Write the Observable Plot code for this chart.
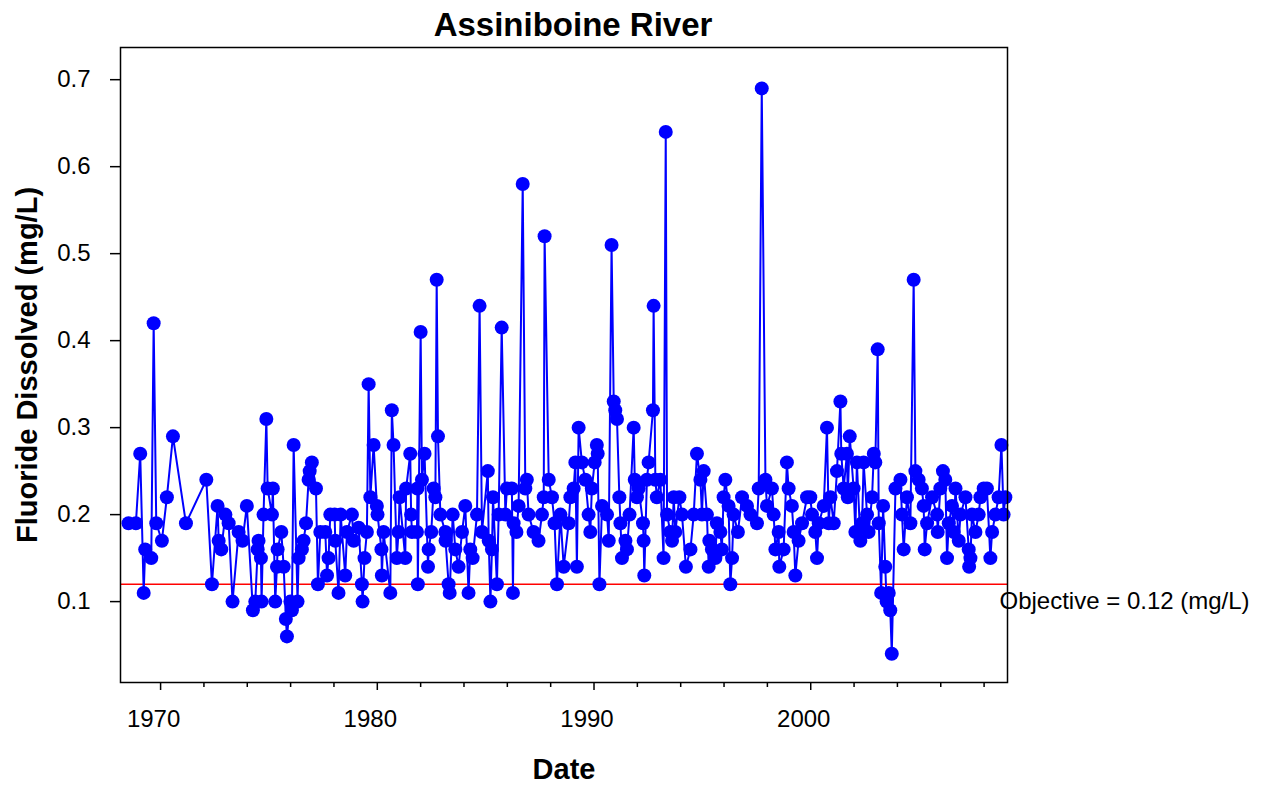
<!DOCTYPE html>
<html>
<head>
<meta charset="utf-8">
<script src="https://cdn.jsdelivr.net/npm/d3@7"></script>
<script src="https://cdn.jsdelivr.net/npm/@observablehq/plot@0.6"></script>
<style>
  html, body { margin: 0; padding: 0; background: #ffffff; }
  #chart { width: 1270px; height: 785px; }
</style>
</head>
<body>
<div id="chart"></div>
<script>
const title = "Assiniboine River";
const xLabel = "Date";
const yLabel = "Fluoride Dissolved (mg/L)";
const objective = 0.12;
const objectiveUnit = "(mg/L)";

const majorYears = [1970, 1980, 1990, 2000];
const minorYears = [1972, 1974, 1976, 1978, 1982, 1984, 1986, 1988, 1992, 1994, 1996, 1998, 2002, 2004, 2006, 2008];
const yTicks = [0.1, 0.2, 0.3, 0.4, 0.5, 0.6, 0.7];

const years = [1968.52,1968.86,1969.06,1969.22,1969.29,1969.57,1969.68,1969.80,1970.06,1970.29,
1970.57,1971.17,1972.11,1972.37,1972.63,1972.68,1972.80,1972.99,1973.14,1973.32,
1973.60,1973.78,1973.98,1974.26,1974.37,1974.48,1974.52,1974.63,1974.66,1974.75,
1974.88,1974.94,1975.14,1975.18,1975.29,1975.37,1975.40,1975.57,1975.68,1975.78,
1975.83,1975.99,1976.06,1976.14,1976.32,1976.37,1976.52,1976.60,1976.71,1976.83,
1976.88,1976.98,1977.17,1977.26,1977.37,1977.60,1977.68,1977.75,1977.83,1978.03,
1978.06,1978.21,1978.31,1978.52,1978.60,1978.83,1978.91,1979.14,1979.29,1979.32,
1979.41,1979.52,1979.60,1979.68,1979.83,1979.98,1980.01,1980.19,1980.21,1980.29,
1980.60,1980.67,1980.75,1980.90,1980.98,1981.03,1981.29,1981.33,1981.52,1981.56,
1981.60,1981.83,1981.85,1981.87,1982.00,1982.06,1982.18,1982.34,1982.37,1982.49,
1982.60,1982.68,1982.74,1982.80,1982.91,1983.14,1983.15,1983.29,1983.34,1983.48,
1983.60,1983.75,1983.91,1984.06,1984.21,1984.29,1984.40,1984.60,1984.72,1984.83,
1985.10,1985.14,1985.22,1985.29,1985.34,1985.52,1985.60,1985.74,1985.91,1985.98,
1986.21,1986.26,1986.29,1986.42,1986.52,1986.71,1986.83,1986.90,1986.98,1987.21,
1987.44,1987.60,1987.68,1987.72,1987.91,1988.06,1988.18,1988.29,1988.45,1988.60,
1988.83,1988.91,1989.06,1989.14,1989.21,1989.29,1989.44,1989.60,1989.75,1989.83,
1989.90,1990.03,1990.13,1990.17,1990.25,1990.37,1990.60,1990.68,1990.81,1990.91,
1990.98,1991.06,1991.17,1991.22,1991.29,1991.45,1991.52,1991.64,1991.83,1991.88,
1991.98,1992.06,1992.26,1992.29,1992.32,1992.44,1992.52,1992.72,1992.75,1992.83,
1992.90,1993.06,1993.21,1993.31,1993.37,1993.52,1993.60,1993.68,1993.75,1993.94,
1994.06,1994.24,1994.45,1994.60,1994.75,1994.91,1994.98,1995.06,1995.21,1995.29,
1995.32,1995.44,1995.60,1995.67,1995.83,1995.90,1995.98,1996.06,1996.21,1996.29,
1996.37,1996.44,1996.64,1996.83,1997.06,1997.22,1997.52,1997.60,1997.74,1997.91,
1997.98,1998.21,1998.29,1998.37,1998.52,1998.55,1998.75,1998.90,1998.98,1999.13,
1999.21,1999.29,1999.44,1999.60,1999.83,1999.98,2000.06,2000.21,2000.29,2000.37,
2000.60,2000.75,2000.83,2000.91,2001.06,2001.21,2001.37,2001.41,2001.52,2001.67,
2001.71,2001.80,2001.98,2002.06,2002.13,2002.29,2002.37,2002.44,2002.60,2002.67,
2002.83,2002.91,2002.98,2003.09,2003.14,2003.25,2003.34,2003.44,2003.50,2003.60,
2003.67,2003.74,2003.91,2004.14,2004.21,2004.29,2004.44,2004.60,2004.75,2004.83,
2004.98,2005.13,2005.21,2005.26,2005.37,2005.60,2005.83,2005.86,2005.98,2006.10,
2006.21,2006.29,2006.37,2006.52,2006.60,2006.68,2006.83,2006.91,2007.14,2007.29,
2007.31,2007.37,2007.44,2007.60,2007.75,2007.83,2007.98,2008.13,2008.29,2008.37,
2008.52,2008.67,2008.80,2008.90,2008.98];

const fluoride = [0.19,0.19,0.27,0.11,0.16,0.15,0.42,0.19,0.17,0.22,
0.29,0.19,0.24,0.12,0.21,0.17,0.16,0.20,0.19,0.10,
0.18,0.17,0.21,0.09,0.10,0.16,0.17,0.15,0.10,0.20,
0.31,0.23,0.20,0.23,0.10,0.14,0.16,0.18,0.14,0.08,
0.06,0.10,0.09,0.28,0.10,0.15,0.16,0.17,0.19,0.24,
0.25,0.26,0.23,0.12,0.18,0.18,0.13,0.15,0.20,0.20,
0.17,0.11,0.20,0.13,0.18,0.20,0.17,0.185,0.12,0.10,
0.15,0.18,0.35,0.22,0.28,0.21,0.20,0.16,0.13,0.18,
0.11,0.32,0.28,0.15,0.18,0.22,0.15,0.23,0.27,0.20,
0.18,0.18,0.23,0.12,0.41,0.24,0.27,0.14,0.16,0.18,
0.23,0.22,0.47,0.29,0.20,0.18,0.17,0.12,0.11,0.20,
0.16,0.14,0.18,0.21,0.11,0.16,0.15,0.20,0.44,0.18,
0.25,0.17,0.10,0.16,0.22,0.12,0.20,0.415,0.20,0.23,
0.23,0.11,0.19,0.18,0.21,0.58,0.23,0.24,0.20,0.18,
0.17,0.20,0.22,0.52,0.24,0.22,0.19,0.12,0.20,0.14,
0.19,0.22,0.23,0.26,0.14,0.30,0.26,0.24,0.20,0.18,
0.23,0.26,0.28,0.27,0.12,0.21,0.20,0.17,0.51,0.33,
0.32,0.31,0.22,0.19,0.15,0.17,0.16,0.20,0.30,0.24,
0.22,0.23,0.19,0.17,0.13,0.24,0.26,0.32,0.44,0.24,
0.22,0.24,0.15,0.64,0.20,0.18,0.17,0.22,0.18,0.22,
0.20,0.14,0.16,0.20,0.27,0.24,0.20,0.25,0.20,0.14,
0.17,0.16,0.15,0.19,0.18,0.16,0.22,0.24,0.21,0.12,
0.15,0.20,0.18,0.22,0.21,0.20,0.19,0.23,0.69,0.24,
0.21,0.23,0.20,0.16,0.18,0.14,0.16,0.26,0.23,0.21,
0.18,0.13,0.17,0.19,0.22,0.22,0.20,0.18,0.15,0.19,
0.21,0.30,0.19,0.22,0.19,0.25,0.33,0.27,0.23,0.27,
0.22,0.29,0.23,0.18,0.26,0.17,0.19,0.26,0.20,0.18,
0.22,0.27,0.26,0.39,0.19,0.11,0.21,0.14,0.10,0.11,
0.09,0.04,0.23,0.24,0.20,0.16,0.22,0.19,0.47,0.25,
0.24,0.23,0.21,0.16,0.19,0.22,0.20,0.18,0.23,0.25,
0.24,0.15,0.19,0.21,0.18,0.23,0.17,0.20,0.22,0.16,
0.14,0.15,0.20,0.18,0.20,0.22,0.23,0.23,0.15,0.18,
0.20,0.22,0.28,0.20,0.22];

const data = years.map((t, i) => ({date: t, value: fluoride[i]}));
const font = "'Liberation Sans', Arial, Helvetica, sans-serif";
const noText = () => "";

const chart = Plot.plot({
  width: 1270,
  height: 785,
  marginLeft: 120,
  marginRight: 263,
  marginTop: 47,
  marginBottom: 103,
  style: {fontFamily: font, background: "#ffffff", color: "#000000"},
  x: {domain: [1968.15, 2009.08], axis: null},
  y: {domain: [0.007, 0.737], axis: null},
  marks: [
    Plot.ruleY([objective], {stroke: "#ff0000", strokeWidth: 1.5}),
    Plot.line(data, {x: "date", y: "value", stroke: "#0000ff", strokeWidth: 2}),
    Plot.dot(data, {x: "date", y: "value", r: 7, fill: "#0000ff", stroke: "none"}),
    Plot.frame({stroke: "#000000", strokeWidth: 1.5}),
    Plot.axisX({ticks: majorYears, tickSize: 8, tickFormat: noText, label: null, strokeWidth: 1.5}),
    Plot.axisX({ticks: minorYears, tickSize: 5, tickFormat: noText, label: null, strokeWidth: 1.5}),
    Plot.axisX({ticks: majorYears, tickSize: 0, tickPadding: 27, dx: -7, fontSize: 24, tickFormat: d => String(d), label: null}),
    Plot.axisY({ticks: yTicks, tickSize: 10, tickPadding: 20, fontSize: 24, tickFormat: d => d.toFixed(1), label: null, strokeWidth: 1.5}),
    Plot.text([objective], {y: d => d, frameAnchor: "right", textAnchor: "start", lineAnchor: "middle", dx: -8, dy: 17, fontSize: 24, fill: "#000000", text: d => `Objective = ${d} ${objectiveUnit}`}),
    Plot.text([title], {frameAnchor: "top", textAnchor: "middle", lineAnchor: "middle", dy: -22, dx: 9, fontSize: 33, fontWeight: "bold", fill: "#000000"}),
    Plot.text([xLabel], {frameAnchor: "bottom", textAnchor: "middle", lineAnchor: "middle", dy: 87, fontSize: 29, fontWeight: "bold", fill: "#000000"}),
    Plot.text([yLabel], {frameAnchor: "left", textAnchor: "middle", rotate: -90, lineAnchor: "middle", dx: -93, fontSize: 29, fontWeight: "bold", fill: "#000000"})
  ]
});
document.getElementById("chart").appendChild(chart);
</script>
</body>
</html>
